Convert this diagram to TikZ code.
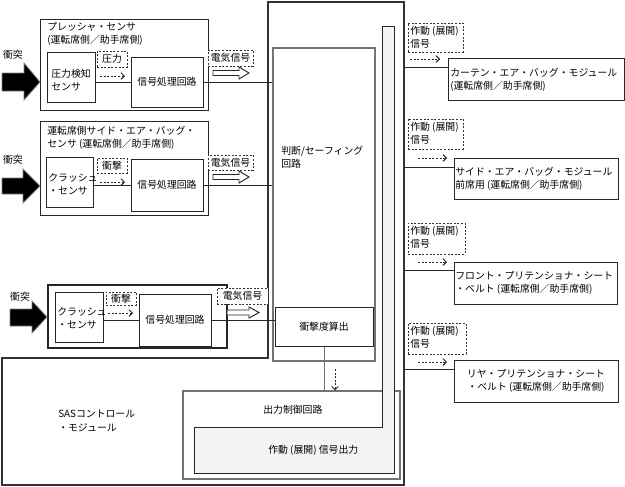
\documentclass[tikz,border=0pt]{standalone}
\usepackage{fontspec}
\setmainfont{Noto Sans CJK JP}
\usetikzlibrary{fit,arrows.meta}
\begin{document}
\begin{tikzpicture}[x=0.75pt,y=-0.75pt,
 box/.style={draw=black!85, line width=0.75pt, inner sep=0pt, fill=white},
 gbox/.style={draw=black!55, line width=0.9pt, inner sep=0pt},
 dbox/.style={draw=black!80, dash pattern=on 1.5pt off 1.2pt, line width=0.6pt, inner sep=0pt, fill=white},
 txt/.style={inner sep=0pt, align=left, font=\fontsize{7.4}{10}\selectfont},
 conn/.style={draw=black!85, line width=0.75pt},
 darr/.style={draw=black!85, line width=0.7pt, dash pattern=on 1.5pt off 1.2pt, -{Straight Barb[length=2.5pt,width=5pt]}},
 harr/.style={draw=black!85, fill=white, line width=0.7pt},
 barr/.style={fill=black, draw=black!50, line width=0.6pt},
]
\fill[white] (0,0) rectangle (625,486);
\useasboundingbox (0,0) rectangle (625,486);

% SAS control module outline
\draw[draw=black!80, line width=1pt] (268,2) -- (404,2) -- (404,485) -- (2,485) -- (2,358) -- (268,358) -- cycle;
\node[txt, anchor=west] (sas) at (58,421) {SASコントロール\\・モジュール};

% judgement / safing circuit
\node[gbox, fit={(273,48) (375,361)}] (J) {};
\node[txt, anchor=north west] (Jt) at (281,146) {判断/セーフィング\\回路};
\node[box, fit={(275,307) (373,346)}] (K) {};
\node[txt] (Kt) at (K.center) {衝撃度算出};

% output control circuit
\node[gbox, fit={(183,391) (400,479)}] (C) {};
\node[txt, anchor=west] (Ct) at (263,410) {出力制御回路};
\draw[draw=black!85, fill={rgb,255:red,243;green,245;blue,244}, line width=0.75pt]
 (194,427) -- (382,427) -- (382,26) -- (394,26) -- (394,473) -- (194,473) -- cycle;
\node[txt, anchor=west] (Ot) at (268,450) {作動 (展開) 信号出力};

\draw[conn, draw=black!55] (K.south) -- (K.south |- C.north);
\coordinate (ka) at (335,369);
\draw[darr] (ka) -- (ka |- C.north);

% ---------- sensor 1
\node[box, fit={(40,19) (208,110)}] (S1) {};
\node[txt, anchor=north west] (S1t) at (47,22) {プレッシャ・センサ\\(運転席側／助手席側)};
\node[box, fit={(47,52) (95,102)}] (s1a) {};
\node[txt] (s1at) at (71,80) {圧力検知\\センサ};
\node[box, fit={(131,57) (203,107)}] (s1b) {};
\node[txt] (s1bt) at (s1b.center) {信号処理回路};
\node[dbox, fit={(97,51) (127,67)}] (l1) {};
\node[txt] (l1t) at (l1.center) {圧力};
\coordinate (a1s) at (100,76); \coordinate (a1e) at (125,76);
\draw[darr] (a1s) -- (a1e);
\draw[conn] (s1b.west -| s1a.east) -- (s1b.west);
\node[dbox, fit={(208,50) (253,66)}] (e1) {};
\node[txt] (e1t) at (e1.center) {電気信号};
\draw[harr] (213,70.5) -- (239,70.5) -- (239,67) -- (249,73) -- (239,79) -- (239,75.5) -- (213,75.5) -- cycle;
\draw[conn] (s1b.east) -- (s1b.east -| J.west);
\draw[barr] (2,73) -- (24,73) -- (24,63) -- (40,82) -- (24,100) -- (24,91) -- (2,91) -- cycle;
\node[txt] (c1) at (13,55) {衝突};

% ---------- sensor 2
\node[box, fit={(40,121) (208,215)}] (S2) {};
\node[txt, anchor=north west] (S2t) at (47,126) {運転席側サイド・エア・バッグ・\\センサ (運転席側／助手席側)};
\node[box, fit={(46,157) (93,207)}] (s2a) {};
\node[txt, anchor=west] (s2at) at (48,184) {クラッシュ\\・センサ};
\node[box, fit={(131,159) (203,211)}] (s2b) {};
\node[txt] (s2bt) at (s2b.center) {信号処理回路};
\node[dbox, fit={(97,158) (127,173)}] (l2) {};
\node[txt] (l2t) at (l2.center) {衝撃};
\coordinate (a2s) at (100,182); \coordinate (a2e) at (125,182);
\draw[darr] (a2s) -- (a2e);
\draw[conn] (s2b.west -| s2a.east) -- (s2b.west);
\node[dbox, fit={(208,155) (253,170)}] (e2) {};
\node[txt] (e2t) at (e2.center) {電気信号};
\draw[harr] (213,174.5) -- (239,174.5) -- (239,171) -- (249,177) -- (239,183) -- (239,179.5) -- (213,179.5) -- cycle;
\draw[conn] (s2b.east) -- (s2b.east -| J.west);
\draw[barr] (2,178) -- (23,178) -- (23,169) -- (40,186) -- (23,203) -- (23,194) -- (2,194) -- cycle;
\node[txt] (c2) at (13,160) {衝突};

% ---------- sensor 3
\node[box, line width=1pt, fit={(48,285) (227,348)}] (S3) {};
\node[box, fit={(55,292) (103,342)}] (s3a) {};
\node[txt, anchor=west] (s3at) at (57,318) {クラッシュ\\・センサ};
\node[box, fit={(139,294) (211,346)}] (s3b) {};
\node[txt] (s3bt) at (s3b.center) {信号処理回路};
\node[dbox, fit={(106,292) (136,305)}] (l3) {};
\node[txt] (l3t) at (l3.center) {衝撃};
\coordinate (a3s) at (108,313); \coordinate (a3e) at (133,313);
\draw[darr] (a3s) -- (a3e);
\draw[conn] (s3b.west -| s3a.east) -- (s3b.west);
\node[dbox, fit={(217,288) (268,304)}] (e3) {};
\node[txt] (e3t) at (e3.center) {電気信号};
\draw[harr] (227,310) -- (249,310) -- (249,307) -- (259,312.5) -- (249,318) -- (249,315) -- (227,315) -- cycle;
\draw[conn] (s3b.east) -- (s3b.east -| K.west);
\draw[barr] (10,309) -- (32,309) -- (32,301) -- (47,317) -- (32,333) -- (32,326) -- (10,326) -- cycle;
\node[txt] (c3) at (20,297) {衝突};

% ---------- modules
\node[box, fit={(448,58) (624,100)}] (M1) {};
\node[txt, anchor=west] (M1t) at (450,80) {カーテン・エア・バッグ・モジュール\\(運転席側／助手席側)};
\coordinate (o1) at (404,67);
\draw[conn] (o1) -- (o1 -| M1.west);
\node[dbox, fit={(408,23) (463,52)}] (D1) {};
\node[txt, anchor=north west] (D1t) at (410,26) {作動 (展開)\\信号};
\coordinate (b1s) at (410,59); \coordinate (b1e) at (440,59);
\draw[darr] (b1s) -- (b1e);

\node[box, fit={(454,158) (618,199)}] (M2) {};
\node[txt, anchor=west] (M2t) at (455,179) {サイド・エア・バッグ・モジュール\\前席用 (運転席側／助手席側)};
\coordinate (o2) at (404,167);
\draw[conn] (o2) -- (o2 -| M2.west);
\node[dbox, fit={(408,119) (463,149)}] (D2) {};
\node[txt, anchor=north west] (D2t) at (410,122) {作動 (展開)\\信号};
\coordinate (b2s) at (418,158); \coordinate (b2e) at (447,158);
\draw[darr] (b2s) -- (b2e);

\node[box, fit={(454,262) (617,304)}] (M3) {};
\node[txt, anchor=west] (M3t) at (455,283) {フロント・プリテンショナ・シート\\・ベルト (運転席側／助手席側)};
\coordinate (o3) at (404,270);
\draw[conn] (o3) -- (o3 -| M3.west);
\node[dbox, fit={(408,223) (465,254)}] (D3) {};
\node[txt, anchor=north west] (D3t) at (410,226) {作動 (展開)\\信号};
\coordinate (b3s) at (418,262); \coordinate (b3e) at (447,262);
\draw[darr] (b3s) -- (b3e);

\node[box, fit={(454,360) (618,402)}] (M4) {};
\node[txt, align=center] (M4t) at (M4.center) {リヤ・プリテンショナ・シート\\・ベルト (運転席側／助手席側)};
\coordinate (o4) at (404,369);
\draw[conn] (o4) -- (o4 -| M4.west);
\node[dbox, fit={(408,323) (466,354)}] (D4) {};
\node[txt, anchor=north west] (D4t) at (410,326) {作動 (展開)\\信号};
\coordinate (b4s) at (418,362); \coordinate (b4e) at (447,362);
\draw[darr] (b4s) -- (b4e);
\end{tikzpicture}
\end{document}
